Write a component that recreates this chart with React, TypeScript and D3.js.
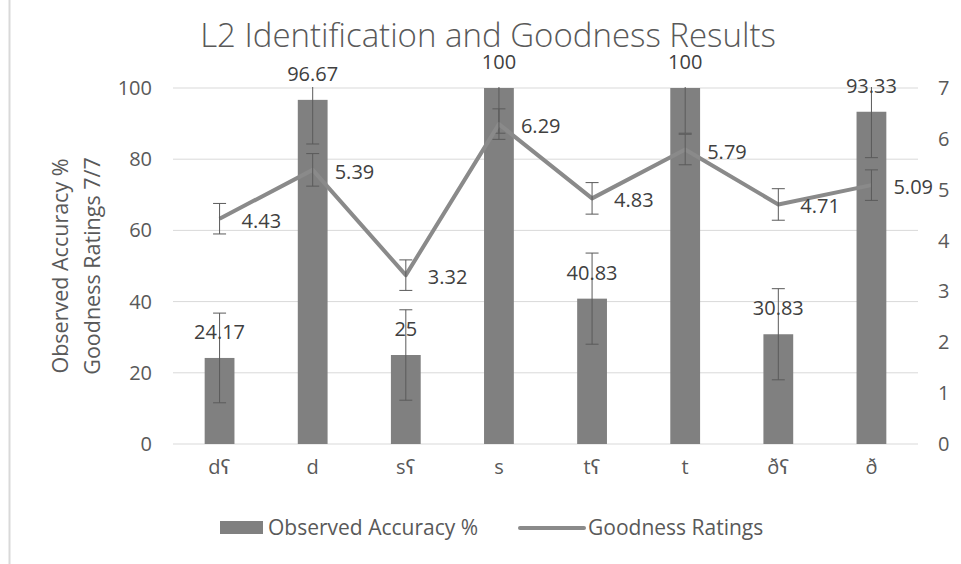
import React from "react";
import * as d3 from "d3";

const categories = ["dʕ", "d", "sʕ", "s", "tʕ", "t", "ðʕ", "ð"];
const accuracy = [24.17, 96.67, 25, 100, 40.83, 100, 30.83, 93.33];
const accuracyErr = [12.6, 12.4, 12.7, 12.7, 12.8, 12.7, 12.8, 12.9];
const goodness = [4.43, 5.39, 3.32, 6.29, 4.83, 5.79, 4.71, 5.09];
const goodnessErr = [0.3, 0.32, 0.3, 0.3, 0.31, 0.3, 0.31, 0.3];
const leftTicks = [0, 20, 40, 60, 80, 100];
const rightTicks = [0, 1, 2, 3, 4, 5, 6, 7];

const W = 961;
const H = 564;
const L = 173, R = 918, T = 88, B = 444;
const FONT = "'Open Sans', 'DejaVu Sans', sans-serif";
const TXT = "#595959";
const LBL = "#404040";
const BAR = "#808080";
const LINE = "#8a8a8a";
const ERR = "#5a5a5a";

export default function App() {
  const x = d3.scaleBand<string>().domain(categories).range([L, R]).paddingInner(0.68).paddingOuter(0.34);
  const yL = d3.scaleLinear().domain([0, 100]).range([B, T]);
  const yR = d3.scaleLinear().domain([0, 7]).range([B, T]);
  const cx = (c: string) => (x(c) as number) + x.bandwidth() / 2;
  const line = d3.line<number>().x((_, i) => cx(categories[i])).y((v) => yR(v));
  const cap = 6.5;

  return (
    <svg width={W} height={H} style={{ position: "absolute", left: 0, top: 0, background: "#fff" }} fontFamily={FONT}>
      <defs>
        <clipPath id="plotclip">
          <rect x={L - 20} y={T - 1} width={R - L + 40} height={B - T + 2} />
        </clipPath>
      </defs>
      <rect x={0} y={0} width={W} height={H} fill="#fff" />
      <line x1={9.5} x2={9.5} y1={0} y2={H} stroke="#d9d9d9" strokeWidth={2} />
      <text x={488} y={47} textAnchor="middle" fontSize={33} fill={TXT} fontWeight={300}>
        L2 Identification and Goodness Results
      </text>
      {leftTicks.map((t) => (
        <g key={"g" + t}>
          <line x1={L} x2={R} y1={yL(t)} y2={yL(t)} stroke="#d9d9d9" strokeWidth={1} />
          <text x={152} y={yL(t)} dy="0.35em" textAnchor="end" fontSize={20} fill={TXT}>{t}</text>
        </g>
      ))}
      {rightTicks.map((t) => (
        <text key={"r" + t} x={938} y={yR(t)} dy="0.35em" textAnchor="start" fontSize={20} fill={TXT}>{t}</text>
      ))}
      {categories.map((c) => (
        <text key={"x" + c} x={cx(c)} y={467} dy="0.35em" textAnchor="middle" fontSize={20} fill={TXT}>{c}</text>
      ))}
      <g transform="translate(60,266) rotate(-90)">
        <text x={0} y={0} dy="0.35em" textAnchor="middle" fontSize={21.5} fill={TXT}>Observed Accuracy %</text>
      </g>
      <g transform="translate(92,266) rotate(-90)">
        <text x={0} y={0} dy="0.35em" textAnchor="middle" fontSize={21.5} fill={TXT}>Goodness Ratings 7/7</text>
      </g>
      {categories.map((c, i) => (
        <rect key={"b" + c} x={x(c)} y={yL(accuracy[i])} width={x.bandwidth()} height={B - yL(accuracy[i])} fill={BAR} />
      ))}
      <g clipPath="url(#plotclip)">
        {categories.map((c, i) => {
          const hi = yL(accuracy[i] + accuracyErr[i]);
          const lo = yL(accuracy[i] - accuracyErr[i]);
          const px = cx(c);
          return (
            <g key={"e" + c} stroke={ERR} strokeWidth={1}>
              <line x1={px} x2={px} y1={hi} y2={lo} />
              <line x1={px - cap} x2={px + cap} y1={hi} y2={hi} />
              <line x1={px - cap} x2={px + cap} y1={lo} y2={lo} />
            </g>
          );
        })}
      </g>
      <path d={line(goodness) as string} fill="none" stroke={LINE} strokeWidth={4} strokeLinejoin="round" />
      {categories.map((c, i) => {
        const hi = yR(goodness[i] + goodnessErr[i]);
        const lo = yR(goodness[i] - goodnessErr[i]);
        const px = cx(c);
        return (
          <g key={"ge" + c} stroke={ERR} strokeWidth={1}>
            <line x1={px} x2={px} y1={hi} y2={lo} />
            <line x1={px - cap} x2={px + cap} y1={hi} y2={hi} />
            <line x1={px - cap} x2={px + cap} y1={lo} y2={lo} />
          </g>
        );
      })}
      {categories.map((c, i) => (
        <text key={"al" + c} x={cx(c)} y={yL(accuracy[i]) - 26} dy="0.35em" textAnchor="middle" fontSize={20} fill={LBL}>
          {accuracy[i]}
        </text>
      ))}
      {categories.map((c, i) => (
        <text key={"gl" + c} x={cx(c) + 22} y={yR(goodness[i]) + 2} dy="0.35em" textAnchor="start" fontSize={20} fill={LBL}>
          {goodness[i]}
        </text>
      ))}
      <rect x={220} y={521} width={43} height={13} fill={BAR} />
      <text x={268} y={528} dy="0.35em" fontSize={21} fill={TXT}>Observed Accuracy %</text>
      <line x1={520} x2={584} y1={528} y2={528} stroke={LINE} strokeWidth={4} strokeLinecap="round" />
      <text x={588} y={528} dy="0.35em" fontSize={21} fill={TXT}>Goodness Ratings</text>
    </svg>
  );
}
